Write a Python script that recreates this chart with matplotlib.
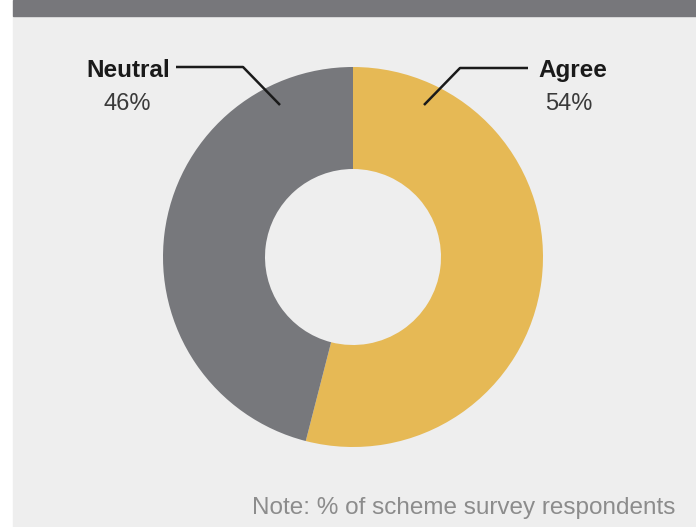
import matplotlib.pyplot as plt
from matplotlib.patches import Rectangle

plt.rcParams['font.family'] = ['Liberation Sans', 'DejaVu Sans']

labels = ['Agree', 'Neutral']
shares = [54, 46]
colors = ['#e6b955', '#77787c']

W, H = 696, 527
fig = plt.figure(figsize=(W / 100, H / 100), dpi=100, facecolor='white')
ax = fig.add_axes([0, 0, 1, 1])

# panel background and the header strip (pixel coords, y measured from top)
def top(y):
    return H - y

ax.add_patch(Rectangle((13, 0), W - 13, top(16), color='#eeeeee', zorder=0))
ax.add_patch(Rectangle((13, top(16)), W - 13, 16, color='#77777b', zorder=0))

cx, cy, r_out, r_in = 353, top(257), 190, 88
ax.pie(shares, colors=colors, startangle=90, counterclock=False,
       center=(cx, cy), radius=r_out,
       wedgeprops=dict(width=r_out - r_in, linewidth=0))

ax.set_xlim(0, W)
ax.set_ylim(0, H)
ax.set_aspect('auto')
ax.axis('off')

# leader lines
ax.plot([176, 243, 280], [top(67), top(67), top(105)], color='#1a1a1a', lw=1.8,
        solid_capstyle='butt', zorder=5)
ax.plot([424, 460, 528], [top(105), top(68), top(68)], color='#1a1a1a', lw=1.8,
        solid_capstyle='butt', zorder=5)

ax.text(170, top(77), labels[1], ha='right', va='baseline', fontsize=17.5,
        fontweight='bold', color='#1a1a1a')
ax.text(127, top(110), f'{shares[1]}%', ha='center', va='baseline', fontsize=17,
        color='#3a3a3a')
ax.text(538, top(77), labels[0], ha='left', va='baseline', fontsize=17.5,
        fontweight='bold', color='#1a1a1a')
ax.text(569, top(110), f'{shares[0]}%', ha='center', va='baseline', fontsize=17,
        color='#3a3a3a')

ax.text(675, top(514), 'Note: % of scheme survey respondents', ha='right',
        va='baseline', fontsize=17.5, color='#8c8c8c')

fig.savefig('out.png', dpi=100, facecolor='white')
